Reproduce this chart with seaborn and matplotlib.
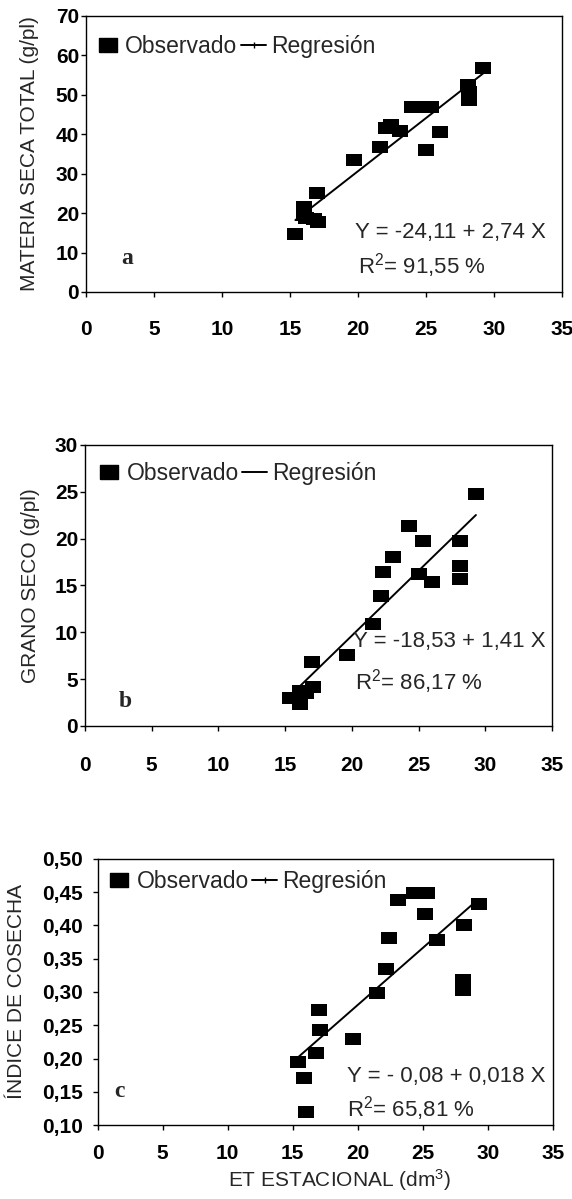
import matplotlib
matplotlib.use("Agg")
import matplotlib.pyplot as plt
from matplotlib.lines import Line2D
from matplotlib.ticker import FuncFormatter
import seaborn as sns


# ET estacional (dm3) y respuestas
et_a = [15.4, 16.0, 16.0, 16.2, 16.8, 17.1, 17.0, 19.7, 21.6, 22.1, 22.4,
        23.1, 24.0, 24.7, 25.4, 25.0, 26.0, 28.1, 28.2, 28.2, 29.2]
materia_seca = [14.7, 21.6, 19.5, 18.7, 18.4, 17.8, 25.2, 33.5, 36.7, 41.5, 42.4,
                40.7, 46.9, 46.9, 46.9, 36.0, 40.5, 52.5, 50.8, 48.7, 56.7]

et_b = [15.4, 16.1, 16.1, 16.6, 17.1, 17.0, 19.6, 21.6, 22.2, 22.3, 23.1,
        24.3, 25.0, 25.3, 26.0, 28.1, 28.1, 28.1, 29.3]
grano_seco = [3.0, 3.7, 2.4, 3.5, 4.2, 6.8, 7.6, 10.9, 13.9, 16.4, 18.0,
              21.3, 16.2, 19.8, 15.4, 19.7, 17.1, 15.7, 24.8]

et_c = [15.4, 15.9, 16.0, 16.8, 17.1, 17.0, 19.6, 21.5, 22.2, 22.4, 23.1,
        24.3, 25.3, 25.2, 26.1, 28.1, 28.1, 28.2, 29.3]
indice_cosecha = [0.195, 0.170, 0.120, 0.209, 0.243, 0.273, 0.230, 0.299, 0.334, 0.381, 0.439,
                  0.449, 0.449, 0.418, 0.378, 0.318, 0.303, 0.401, 0.433]

x_ticks = [0, 5, 10, 15, 20, 25, 30, 35]
y_ticks_a = [0, 10, 20, 30, 40, 50, 60, 70]
y_ticks_b = [0, 5, 10, 15, 20, 25, 30]
y_ticks_c = [0.10, 0.15, 0.20, 0.25, 0.30, 0.35, 0.40, 0.45, 0.50]

ecuaciones = ["Y = -24,11 + 2,74 X", "Y = -18,53 + 1,41 X", "Y = - 0,08 + 0,018 X"]
r2_textos = ["R$^2$= 91,55 %", "R$^2$= 86,17 %", "R$^2$= 65,81 %"]
letras = ["a", "b", "c"]
y_labels = ["MATERIA SECA TOTAL (g/pl)", "GRANO SECO (g/pl)", "ÍNDICE DE COSECHA"]

sns.set_style("ticks")
plt.rcParams["font.family"] = ["Liberation Sans", "DejaVu Sans"]
plt.rcParams["mathtext.default"] = "regular"

rect = [(-1, -0.75), (1, -0.75), (1, 0.75), (-1, 0.75), (-1, -0.75)]


def draw_panel(ax, x, y, yticks, ylabel, eq, r2, letra, eq_pos, r2_pos, letra_pos,
               leg_pos, ylabel_x, xpad, ypad, fmt=None, tick_mark=True):
    sns.scatterplot(x=x, y=y, ax=ax, marker=rect, s=140, color="black",
                    edgecolor="black", linewidth=0, zorder=3)
    sns.regplot(x=x, y=y, ax=ax, scatter=False, ci=None, truncate=True,
                line_kws=dict(color="black", lw=1.4))

    ax.set_xlim(0, 35)
    ax.set_ylim(yticks[0], yticks[-1])
    ax.set_xticks(x_ticks)
    ax.set_yticks(yticks)
    if fmt is not None:
        ax.yaxis.set_major_formatter(FuncFormatter(fmt))
    ax.tick_params(axis="both", direction="out", length=3.5, width=1,
                   labelsize=15, colors="black")
    ax.tick_params(axis="x", pad=xpad)
    ax.tick_params(axis="y", pad=ypad)
    for lbl in ax.get_xticklabels() + ax.get_yticklabels():
        lbl.set_fontweight("bold")
    for sp in ax.spines.values():
        sp.set_visible(True)
        sp.set_color("black")
        sp.set_linewidth(1)

    ax.set_xlabel("")
    ax.set_ylabel(ylabel, fontsize=15)
    ax.yaxis.set_label_coords(ylabel_x, 0.5)

    ax.text(eq_pos[0], eq_pos[1], eq, fontsize=16, va="center")
    ax.text(r2_pos[0], r2_pos[1], r2, fontsize=16, va="center")
    ax.text(letra_pos[0], letra_pos[1], letra, fontsize=17, fontweight="bold",
            family="Liberation Serif", va="center")

    handles = [
        Line2D([], [], marker=rect, ls="none", color="black", markersize=13),
        Line2D([], [], color="black", lw=1.4, marker="|" if tick_mark else None,
               markersize=5),
    ]
    ax.legend(handles, ["Observado", "Regresión"], loc="center left",
              bbox_to_anchor=leg_pos, ncol=2, frameon=False, fontsize=16.5,
              handlelength=1.1, handletextpad=0.2, columnspacing=0.15,
              borderpad=0, borderaxespad=0)


fig = plt.figure(figsize=(5.72, 11.99), dpi=100)
ax_a = fig.add_axes([0.1503, 0.7565, 0.832, 0.2302])
ax_b = fig.add_axes([0.1486, 0.3945, 0.8164, 0.2344])
ax_c = fig.add_axes([0.1708, 0.0617, 0.7955, 0.2219])

draw_panel(ax_a, et_a, materia_seca, y_ticks_a, y_labels[0], ecuaciones[0], r2_textos[0],
           letras[0], (19.8, 15.2), (20.0, 6.6), (2.6, 8.6), (0.02, 0.888), -0.099, 17, 1.5)
draw_panel(ax_b, et_b, grano_seco, y_ticks_b, y_labels[1], ecuaciones[1], r2_textos[1],
           letras[1], (20.1, 9.0), (20.2, 4.7), (2.5, 2.6), (0.025, 0.90), -0.096, 18, 1.5,
           tick_mark=False)
draw_panel(ax_c, et_c, indice_cosecha, y_ticks_c, y_labels[2], ecuaciones[2], r2_textos[2],
           letras[2], (19.2, 0.173), (19.2, 0.125), (1.3, 0.15), (0.02, 0.914), -0.158, 10, 7,
           fmt=lambda v, p: f"{v:.2f}".replace(".", ","))

ax_c.set_xlabel("ET ESTACIONAL (dm$^3$)", fontsize=15)
ax_c.xaxis.set_label_coords(0.532, -0.16)

fig.savefig("out.png", dpi=100)
